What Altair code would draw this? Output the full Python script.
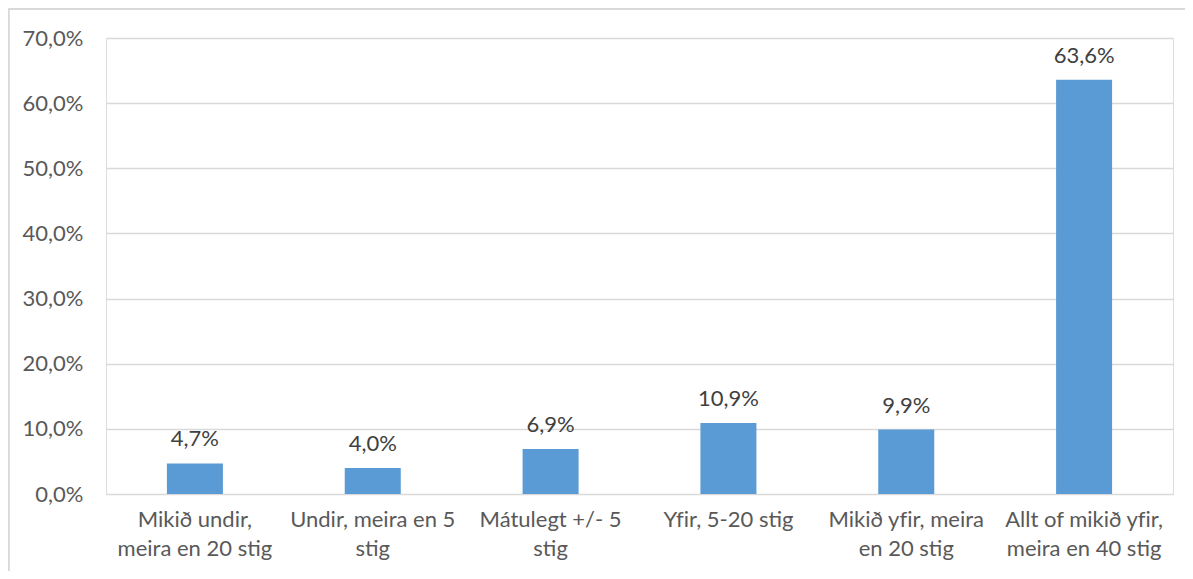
import altair as alt
import pandas as pd

categories = [
    "Mikið undir,|meira en 20 stig",
    "Undir, meira en 5|stig",
    "Mátulegt +/- 5|stig",
    "Yfir, 5-20 stig",
    "Mikið yfir, meira|en 20 stig",
    "Allt of mikið yfir,|meira en 40 stig",
]
values = [4.7, 4.0, 6.9, 10.9, 9.9, 63.6]
y_ticks = [0, 10, 20, 30, 40, 50, 60, 70]

df = pd.DataFrame({"cat": categories, "v": values})

FONT = "Lato"
FS = 22
W, H = 1067, 456

x_enc = alt.X(
    "cat:N",
    sort=categories,
    title=None,
    scale=alt.Scale(paddingInner=0.685, paddingOuter=0.3425),
    axis=alt.Axis(
        labelExpr="split(replace(datum.value, /fi/g, 'f\u200ci'), '|')",
        labelAngle=0,
        labelFontSize=FS,
        labelFont=FONT,
        labelColor="#595959",
        labelPadding=15,
        labelLineHeight=29,
        ticks=False,
        domain=False,
        labelLimit=300,
    ),
)
y_enc = alt.Y(
    "v:Q",
    title=None,
    scale=alt.Scale(domain=[0, 70], nice=False),
    axis=alt.Axis(
        values=y_ticks,
        labelExpr="replace(format(datum.value, '.1f'), '.', ',') + '%'",
        labelFontSize=FS,
        labelFont=FONT,
        labelColor="#595959",
        labelPadding=23,
        ticks=False,
        domain=False,
        grid=True,
        gridColor="#d9d9d9",
        gridWidth=1.4,
    ),
)

base = alt.Chart(df)
bars = base.mark_bar(color="#5b9bd5").encode(x=x_enc, y=y_enc)
labels = base.transform_calculate(
    lab="replace(format(datum.v, '.1f'), '.', ',') + '%'"
).mark_text(dy=-17, baseline="alphabetic", fontSize=FS, font=FONT, color="#404040").encode(
    x=alt.X("cat:N", sort=categories), y="v:Q", text="lab:N"
)

border_v = base.mark_rule(color="#d9d9d9", strokeWidth=1.5).encode(
    x=alt.value(-97.5), y=alt.value(-29), y2=alt.value(H + 90)
)
border_h = base.mark_rule(color="#d9d9d9", strokeWidth=1.5).encode(
    x=alt.value(-97.5), x2=alt.value(W + 40), y=alt.value(-29)
)

chart = (
    alt.layer(border_v, border_h, bars, labels)
    .properties(
        width=W,
        height=H,
        autosize=alt.AutoSizeParams(type="none"),
        padding={"left": 98, "top": 30, "right": 12, "bottom": 77},
    )
    .configure_view(stroke=None)
    .configure(background="white")
)

chart.save("out.html", embed_options={"renderer": "svg", "actions": False})
